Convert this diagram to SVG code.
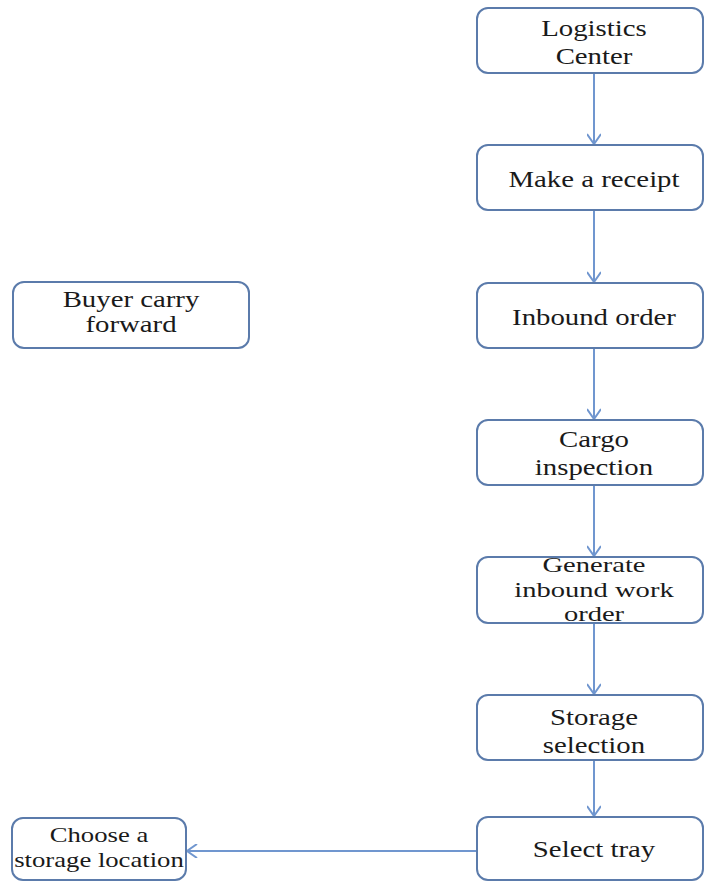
<svg xmlns="http://www.w3.org/2000/svg" width="704" height="881" viewBox="0 0 704 881">
<style>
.box{fill:#fff;stroke:#5b7bab;stroke-width:2}
.t{font-family:"Liberation Serif","Times New Roman",serif;font-size:24px;fill:#1a1a1a;text-anchor:middle}
.s{font-size:21px}
.c{stroke:#7096cf;stroke-width:2;fill:none}
</style>
<defs>
<marker id="ah" markerWidth="14" markerHeight="14" refX="11" refY="7" orient="auto" markerUnits="userSpaceOnUse">
<path d="M1,0 L11,7 L1,14" fill="none" stroke="#7096cf" stroke-width="2"/>
</marker>
</defs>
<rect width="704" height="881" fill="#fff"/>
<g id="connectors">
<line class="c" x1="594" y1="73" x2="594" y2="144" marker-end="url(#ah)"/>
<line class="c" x1="594" y1="210" x2="594" y2="282" marker-end="url(#ah)"/>
<line class="c" x1="594" y1="348" x2="594" y2="419" marker-end="url(#ah)"/>
<line class="c" x1="594" y1="485" x2="594" y2="556" marker-end="url(#ah)"/>
<line class="c" x1="594" y1="623" x2="594" y2="694" marker-end="url(#ah)"/>
<line class="c" x1="594" y1="760" x2="594" y2="816" marker-end="url(#ah)"/>
<line class="c" x1="477" y1="851" x2="187" y2="851" marker-end="url(#ah)"/>
</g>
<g id="logistics-center">
<rect class="box" x="477" y="8" width="226" height="65" rx="11"/>
<text class="t" transform="translate(594,36) scale(1.2,1)">Logistics</text>
<text class="t" transform="translate(594,64) scale(1.2,1)">Center</text>
</g>
<g id="make-receipt">
<rect class="box" x="477" y="145" width="226" height="65" rx="11"/>
<text class="t" transform="translate(594,187) scale(1.2,1)">Make a receipt</text>
</g>
<g id="inbound-order">
<rect class="box" x="477" y="283" width="226" height="65" rx="11"/>
<text class="t" transform="translate(594,325) scale(1.2,1)">Inbound order</text>
</g>
<g id="cargo-inspection">
<rect class="box" x="477" y="420" width="226" height="65" rx="11"/>
<text class="t" transform="translate(594,447) scale(1.2,1)">Cargo</text>
<text class="t" transform="translate(594,475) scale(1.2,1)">inspection</text>
</g>
<g id="generate-work-order">
<rect class="box" x="477" y="557" width="226" height="66" rx="11"/>
<text class="t s" transform="translate(594,572) scale(1.36,1)">Generate</text>
<text class="t s" transform="translate(594,597) scale(1.36,1)">inbound work</text>
<text class="t s" transform="translate(594,621) scale(1.36,1)">order</text>
</g>
<g id="storage-selection">
<rect class="box" x="477" y="695" width="226" height="65" rx="11"/>
<text class="t" transform="translate(594,725) scale(1.2,1)">Storage</text>
<text class="t" transform="translate(594,753) scale(1.2,1)">selection</text>
</g>
<g id="select-tray">
<rect class="box" x="477" y="817" width="226" height="63" rx="11"/>
<text class="t" transform="translate(594,857) scale(1.2,1)">Select tray</text>
</g>
<g id="choose-storage-location">
<rect class="box" x="12" y="818" width="174" height="62" rx="11"/>
<text class="t s" transform="translate(99,842) scale(1.27,1)">Choose a</text>
<text class="t s" transform="translate(99,867) scale(1.27,1)">storage location</text>
</g>
<g id="buyer-carry-forward">
<rect class="box" x="13" y="282" width="236" height="66" rx="11"/>
<text class="t" transform="translate(131,307) scale(1.2,1)">Buyer carry</text>
<text class="t" transform="translate(131,332) scale(1.2,1)">forward</text>
</g>
</svg>
